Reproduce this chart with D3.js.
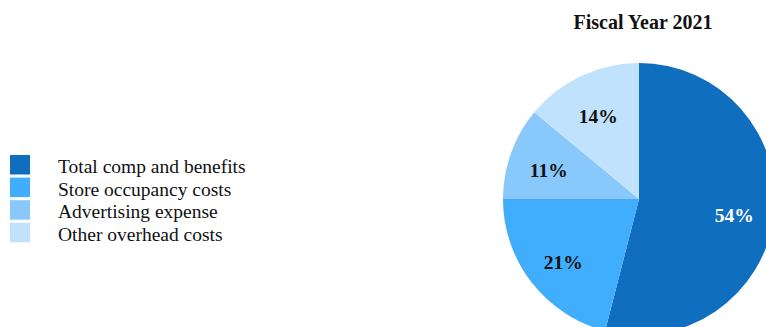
<!DOCTYPE html>
<html><head><meta charset="utf-8">
<script src="https://cdn.jsdelivr.net/npm/d3@7"></script>
<style>html,body{margin:0;padding:0;background:#fff;overflow:hidden}</style>
</head><body>
<svg id="c" width="766" height="327"></svg>
<script>
const categories = ["Total comp and benefits","Store occupancy costs","Advertising expense","Other overhead costs"];
const values = [54, 21, 11, 14];
const labels = ["54%","21%","11%","14%"];
const colors = ["#106ebf","#40adfd","#89c8fb","#c1e2fc"];
const labelColors = ["#ffffff","#111111","#111111","#111111"];
const title = "Fiscal Year 2021";

const svg = d3.select("#c");
const cx = 639, cy = 199, R = 136;
const pie = d3.pie().sort(null).value(d=>d)(values);
const arc = d3.arc().innerRadius(0).outerRadius(R);
const lab = d3.arc().innerRadius(96).outerRadius(96);
const g = svg.append("g").attr("transform",`translate(${cx},${cy})`);
g.selectAll("path").data(pie).join("path").attr("d",arc).attr("fill",(d,i)=>colors[i]);
g.selectAll("text").data(pie).join("text")
  .attr("transform",d=>`translate(${lab.centroid(d)})`)
  .attr("text-anchor","middle").attr("dy","0.55em")
  .attr("font-family","Liberation Serif").attr("font-weight","bold").attr("font-size",19.5)
  .attr("fill",(d,i)=>labelColors[i]).text((d,i)=>labels[i]);

svg.append("text").attr("x",643).attr("y",29).attr("text-anchor","middle")
  .attr("font-family","Liberation Serif").attr("font-weight","bold").attr("font-size",20)
  .attr("fill","#111").text(title);

const lg = svg.append("g");
const y0 = 155, step = 22.6;
categories.forEach((c,i)=>{
  lg.append("rect").attr("x",10).attr("y",y0+i*step).attr("width",20).attr("height",19.5).attr("fill",colors[i]);
  lg.append("text").attr("x",58).attr("y",y0+i*step+18).attr("font-family","Liberation Serif")
    .attr("font-size",19.5).attr("fill","#111").text(c);
});
</script>
</body></html>
